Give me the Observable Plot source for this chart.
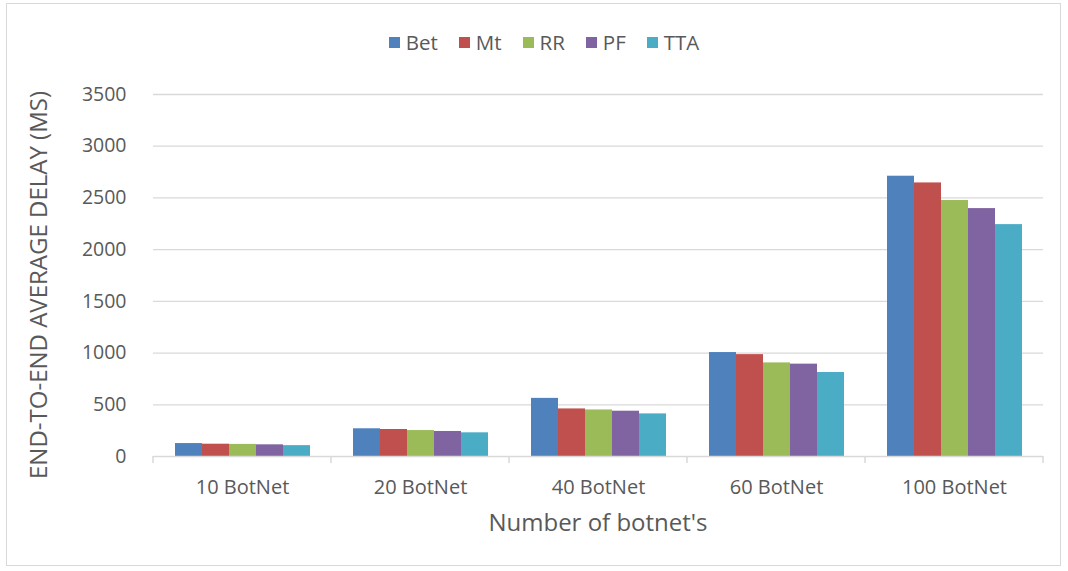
<!DOCTYPE html>
<html>
<head>
<meta charset="utf-8">
<script src="https://cdn.jsdelivr.net/npm/d3@7"></script>
<script src="https://cdn.jsdelivr.net/npm/@observablehq/plot@0.6"></script>
<style>
  html, body { margin: 0; padding: 0; background: #fff; }
  #wrap { position: relative; width: 1068px; height: 571px; font-family: "Open Sans", sans-serif; }
  #border { position: absolute; left: 6px; top: 3px; width: 1055px; height: 563px; border: 1px solid #d9d9d9; box-sizing: border-box; }
  #legend { position: absolute; top: 28px; left: 20px; width: 1048px; display: flex; justify-content: center; gap: 21px; font-size: 20.5px; color: #595959; }
  #legend span.item { display: flex; align-items: center; gap: 6px; }
  #legend span.sw { display: inline-block; width: 11px; height: 11px; }
  #chart { position: absolute; left: 0; top: 0; }
</style>
</head>
<body>
<div id="wrap">
  <div id="border"></div>
  <div id="chart"></div>
  <div id="legend"></div>
</div>
<script>
const categories = ["10 BotNet", "20 BotNet", "40 BotNet", "60 BotNet", "100 BotNet"];
const seriesNames = ["Bet", "Mt", "RR", "PF", "TTA"];
const colors = ["#4F81BD", "#C0504D", "#9BBB59", "#8064A2", "#4BACC6"];
const Bet = [125, 268, 562, 1005, 2710];
const Mt  = [119, 261, 460, 985, 2645];
const RR  = [117, 251, 450, 905, 2475];
const PF  = [113, 242, 438, 893, 2397];
const TTA = [105, 229, 412, 812, 2242];
const yTicks = [0, 500, 1000, 1500, 2000, 2500, 3000, 3500];

const seriesValues = [Bet, Mt, RR, PF, TTA];
const data = [];
categories.forEach((c, ci) => {
  seriesNames.forEach((s, si) => {
    data.push({category: c, series: s, value: seriesValues[si][ci]});
  });
});

const chart = Plot.plot({
  width: 1068,
  height: 571,
  marginTop: 94,
  marginBottom: 115,
  marginLeft: 152,
  marginRight: 25,
  style: {fontFamily: "'Open Sans', sans-serif", fontSize: "19px", color: "#595959", background: "transparent"},
  fx: {domain: categories, padding: 0, label: null},
  x: {domain: seriesNames, paddingInner: 0, paddingOuter: 0.72, axis: null},
  y: {domain: [0, 3500], ticks: yTicks},
  color: {domain: seriesNames, range: colors},
  marks: [
    Plot.ruleY(yTicks.slice(1), {stroke: "#d9d9d9", strokeWidth: 1.3}),
    Plot.barY(data, {fx: "category", x: "series", y: "value", fill: "series"}),
    Plot.ruleY([0], {stroke: "#d9d9d9", strokeWidth: 1.5}),
    Plot.axisY({ticks: yTicks, tickFormat: d => String(d), tickSize: 0, tickPadding: 27, fontSize: 19.5, fill: "#595959",
      label: null}),
    Plot.axisFx({anchor: "bottom", tickSize: 0, tickPadding: 23, fontSize: 20, fill: "#595959", label: null})
  ]
});

document.getElementById("chart").appendChild(chart);

const svg = d3.select(chart);
const fx = chart.scale("fx");
const y = chart.scale("y");
const band = fx.bandwidth;
const y0 = y.apply(0);
const yTop = y.apply(3500);
const edges = categories.map(c => fx.apply(c)).concat([fx.apply(categories[categories.length - 1]) + band]);
// category separator ticks on the x baseline
svg.append("g").selectAll("line").data(edges).join("line")
  .attr("x1", d => d).attr("x2", d => d)
  .attr("y1", y0).attr("y2", y0 + 7)
  .attr("stroke", "#d9d9d9").attr("stroke-width", 1.5);
// x-axis title
svg.append("text")
  .attr("x", (edges[0] + edges[edges.length - 1]) / 2)
  .attr("y", y0 + 69)
  .attr("text-anchor", "middle").attr("dominant-baseline", "middle")
  .attr("font-size", 24).attr("fill", "#595959")
  .text("Number of botnet's");
// y-axis title
svg.append("text")
  .attr("transform", `translate(${edges[0] - 112},${(y0 + yTop) / 2 + 10}) rotate(-90)`)
  .attr("text-anchor", "middle").attr("dominant-baseline", "middle")
  .attr("font-size", 24).attr("fill", "#595959")
  .text("END-TO-END AVERAGE DELAY (MS)");

// legend
const legend = d3.select("#legend");
seriesNames.forEach((s, i) => {
  const it = legend.append("span").attr("class", "item");
  it.append("span").attr("class", "sw").style("background", colors[i]);
  it.append("span").text(s);
});
</script>
</body>
</html>
